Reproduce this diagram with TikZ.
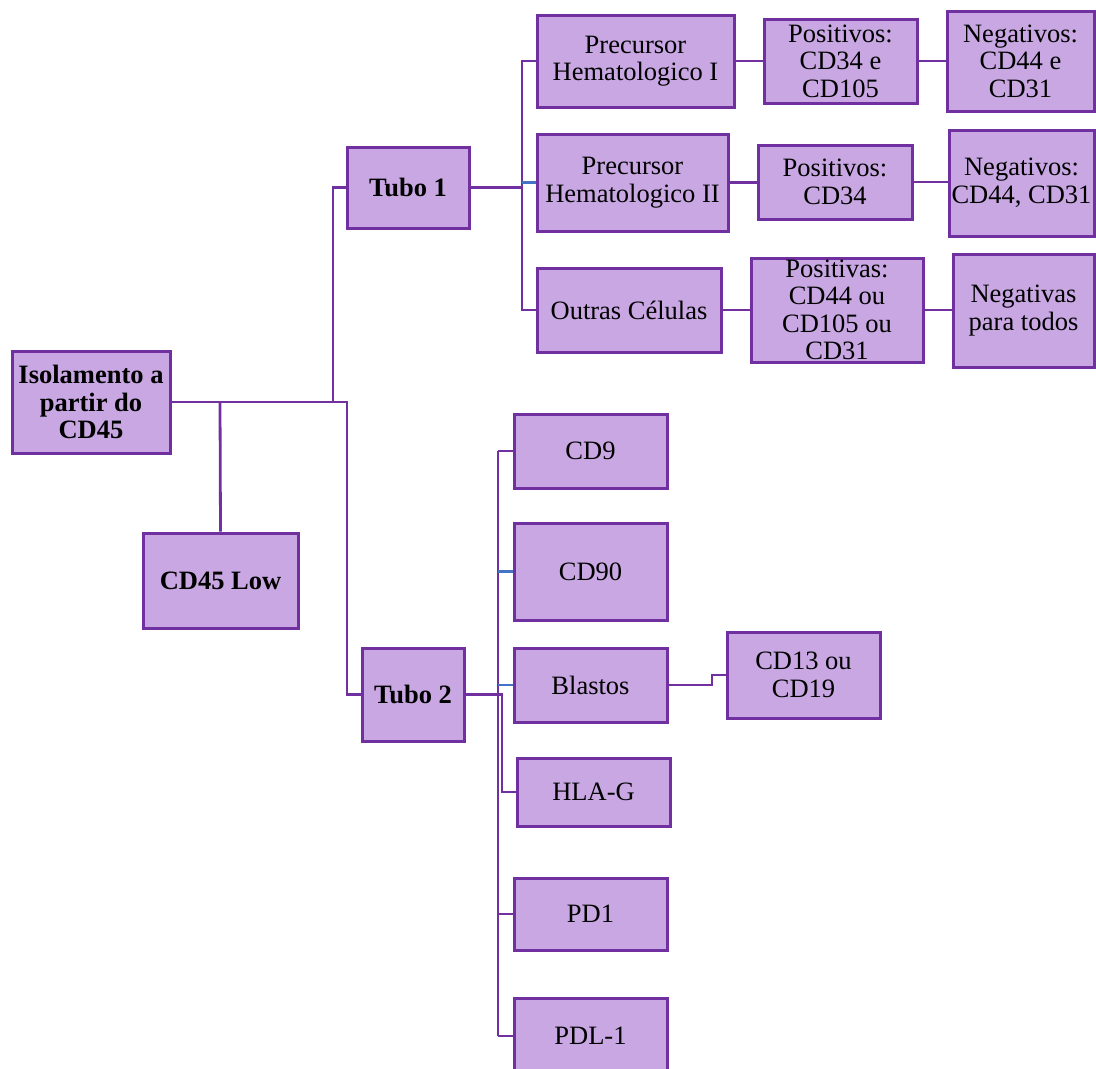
\documentclass[tikz,border=0pt]{standalone}
\usepackage{fontspec}
\setmainfont{Liberation Serif}
\definecolor{lin}{HTML}{7030A0}
\definecolor{fil}{HTML}{C8A7E3}
\definecolor{blu}{HTML}{4472C4}
\begin{document}
\begin{tikzpicture}[x=1pt,y=-1pt,
  box/.style={draw=lin,fill=fil,line width=3pt,inner sep=0pt,align=center,
    font=\fontsize{26.5}{27.5}\selectfont},
  bbox/.style={box,font=\fontsize{26.5}{27.5}\selectfont\bfseries},
  con/.style={draw=lin,line width=2.8pt},
  bcon/.style={draw=blu,line width=2.8pt}]
\useasboundingbox (0,0) rectangle (1096,1069);
% nodes
\node[bbox,minimum width=158,minimum height=102] (iso) at (91,402) {Isolamento a\\partir do\\CD45};
\node[bbox,minimum width=155,minimum height=95] (cd45) at (220.5,580.5) {CD45 Low};
\node[bbox,minimum width=122,minimum height=81] (tubo1) at (408,187.5) {Tubo 1};
\node[bbox,minimum width=102,minimum height=93] (tubo2) at (413,694.5) {Tubo 2};
\node[box,minimum width=197,minimum height=92] (ph1) at (635.5,61) {Precursor\\Hematologico I};
\node[box,minimum width=191,minimum height=97] (ph2) at (632.5,182.5) {Precursor\\Hematologico II};
\node[box,minimum width=184,minimum height=84] (out) at (629,310) {Outras Células};
\node[box,minimum width=153,minimum height=84] (pos1) at (840.5,61) {Positivos:\\CD34 e\\CD105};
\node[box,minimum width=147,minimum height=100] (neg1) at (1020.5,61) {Negativos:\\CD44 e\\CD31};
\node[box,minimum width=154,minimum height=74] (pos2) at (835,182) {Positivos:\\CD34};
\node[box,minimum width=145,minimum height=106] (neg2) at (1021.5,183) {Negativos:\\CD44, CD31};
\node[box,minimum width=172,minimum height=104] (pos3) at (837,310) {Positivas:\\CD44 ou\\CD105 ou\\CD31};
\node[box,minimum width=141,minimum height=113] (neg3) at (1023.5,310.5) {Negativas\\para todos};
\node[box,minimum width=153,minimum height=74] (cd9) at (590.5,451) {CD9};
\node[box,minimum width=153,minimum height=97] (cd90) at (590.5,571.5) {CD90};
\node[box,minimum width=153,minimum height=74] (blast) at (590.5,685) {Blastos};
\node[box,minimum width=153,minimum height=86] (cd13) at (803.5,675) {CD13 ou\\CD19};
\node[box,minimum width=153,minimum height=68] (hlag) at (593.5,792) {HLA-G};
\node[box,minimum width=153,minimum height=72] (pd1) at (590.5,914) {PD1};
\node[box,minimum width=153,minimum height=76] (pdl1) at (590.5,1036) {PDL-1};
% junctions
\coordinate (ja) at (333,402);
\coordinate (jb) at (220,402);
\coordinate (jc) at (347,402);
\coordinate (t1) at (522,187.5);
\coordinate (t1b) at (522,182.5);
\coordinate (t2) at (498,694.5);
\coordinate (t2b) at (502,694.5);
\coordinate (t2c) at (498,451);
\coordinate (t2d) at (498,571.5);
\coordinate (t2e) at (498,685);
\coordinate (t2f) at (498,914);
\coordinate (t2g) at (498,1036);
\coordinate (bl1) at (712,685);
\coordinate (bl2) at (712,675);
% connectors
\draw[con] (iso.east) -- (jc) |- (tubo2.west);
\draw[con] (ja) |- (tubo1.west);
\draw[con] (jb) -- (cd45.north);
\draw[con] (tubo1.east) -- (t1);
\draw[con] (t1) |- (ph1.west);
\draw[con] (t1) |- (out.west);
\draw[bcon] (t1b) -- (ph2.west);
\draw[con] (ph1.east) -- (pos1.west);
\draw[con] (pos1.east) -- (neg1.west);
\draw[con] (ph2.east) -- (pos2.west |- ph2.east);
\draw[con] (pos2.east) -- (neg2.west |- pos2.east);
\draw[con] (out.east) -- (pos3.west);
\draw[con] (pos3.east) -- (neg3.west |- pos3.east);
\draw[con] (tubo2.east) -- (t2b) |- (hlag.west);
\draw[con] (t2c) -- (t2g);
\draw[con] (t2c) -- (cd9.west);
\draw[bcon] (t2d) -- (cd90.west);
\draw[bcon] (t2e) -- (blast.west);
\draw[con] (t2f) -- (pd1.west);
\draw[con] (t2g) -- (pdl1.west);
\draw[con] (blast.east) -- (bl1) -- (bl2) -- (cd13.west);
\end{tikzpicture}
\end{document}
